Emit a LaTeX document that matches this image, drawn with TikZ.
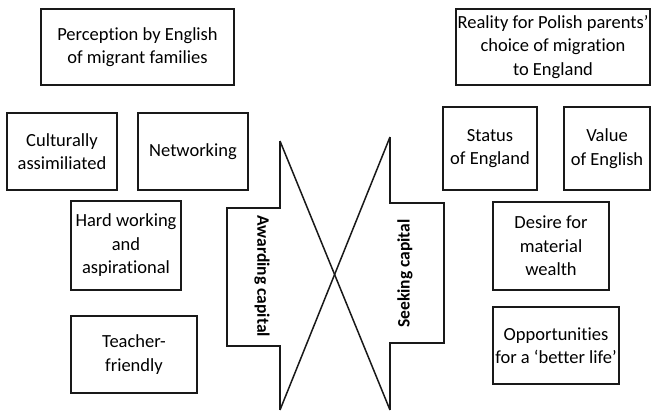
\documentclass[tikz,border=0pt]{standalone}
\usepackage{fontspec}
\setmainfont[Ligatures=NoCommon]{Carlito}
\begin{document}
\begin{tikzpicture}[x=1pt,y=-1pt,
  box/.style={draw=black!90, line width=1.8pt, rectangle, inner sep=0pt, align=center,
    font=\fontsize{18.5}{23.5}\selectfont},
  arr/.style={draw=black!90, line width=1.5pt, line join=miter},
  lab/.style={font=\fontsize{17.5}{20}\selectfont\bfseries, inner sep=0pt}]
\useasboundingbox[fill=white] (0,0) rectangle (651,412);
% left boxes
\node[box, minimum width=193pt, minimum height=76pt] (perc) at (137.5,47) {Perception by English\\of migrant families};
\node[box, minimum width=110pt, minimum height=77pt] (cult) at (62,151.5) {Culturally\\assimiliated};
\node[box, minimum width=110pt, minimum height=77pt] (netw) at (193,151.5) {Networking};
\node[box, minimum width=110pt, minimum height=89pt] (hard) at (126,245.5) {Hard working\\and\\aspirational};
\node[box, minimum width=126pt, minimum height=77pt] (teach) at (134,354.5) {Teacher-\\friendly};
% right boxes
\node[box, minimum width=194pt, minimum height=76pt] (real) at (553,47) {Reality for Polish parents’\\choice of migration\\to England};
\node[box, minimum width=94pt, minimum height=83pt] (stat) at (490,148.5) {Status\\of England};
\node[box, minimum width=86pt, minimum height=83pt] (val) at (607,148.5) {Value\\of English};
\node[box, minimum width=116pt, minimum height=88pt] (des) at (551,246) {Desire for\\material\\wealth};
\node[box, minimum width=126pt, minimum height=77pt] (opp) at (556,345.5) {Opportunities\\for a ‘better life’};
% arrows
\draw[arr] (280,141) -- (280,208) -- (227,208) -- (227,346) -- (280,346) -- (280,410);
\draw[arr] (280,141) -- (390,410);
\draw[arr] (390,137) -- (390,203) -- (444,203) -- (444,343) -- (390,343) -- (390,410);
\draw[arr] (390,137) -- (280,410);
\node[lab, rotate=-90] (award) at (262,276) {Awarding capital};
\node[lab, rotate=90] (seek) at (405,273.5) {Seeking capital};
\end{tikzpicture}
\end{document}
